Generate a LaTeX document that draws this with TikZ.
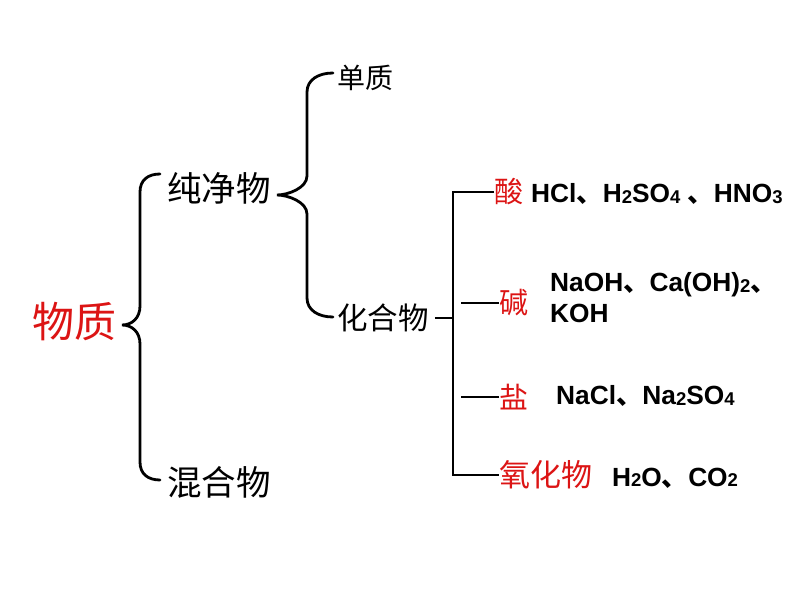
\documentclass[tikz,border=0pt]{standalone}
\usepackage{fontspec}
\newfontfamily\cjk{Noto Sans CJK SC}
\setmainfont{Liberation Sans}
\definecolor{myred}{RGB}{220,20,20}
\newcommand{\sbx}[1]{{\fontsize{18.5pt}{18.5pt}\selectfont\raisebox{-0.5pt}{#1}}}
\newcommand{\dun}{{\cjk 、}}
\tikzset{
  bracestroke/.style={draw=black, line width=2.8pt, line cap=round},
  treeline/.style={draw=black, line width=2.8pt},
  cn/.style={font=\cjk, inner sep=0pt, anchor=west},
  chem/.style={font=\fontsize{26.3pt}{31pt}\selectfont\bfseries, inner sep=0pt, anchor=west, align=left},
}
\begin{document}
\begin{tikzpicture}[x=1pt,y=-1pt]
\useasboundingbox (0,0) rectangle (794,596);
% nodes
\node[cn, text=myred, font=\cjk\fontsize{42pt}{42pt}\selectfont] (wz) at (32,322) {物质};
\node[cn, font=\cjk\fontsize{34.5pt}{34pt}\selectfont] (cjw) at (167,188) {纯净物};
\node[cn, font=\cjk\fontsize{34.5pt}{34pt}\selectfont] (hhw) at (167,482) {混合物};
\node[cn, font=\cjk\fontsize{28pt}{28pt}\selectfont] (dz) at (337,78) {单质};
\node[cn, font=\cjk\fontsize{30.5pt}{30pt}\selectfont] (hhw2) at (337,318) {化合物};
\node[cn, text=myred, font=\cjk\fontsize{29pt}{29pt}\selectfont] (suan) at (494,192) {酸};
\node[cn, text=myred, font=\cjk\fontsize{29pt}{29pt}\selectfont] (jian) at (499,303) {碱};
\node[cn, text=myred, font=\cjk\fontsize{29pt}{29pt}\selectfont] (yan) at (499,397) {盐};
\node[cn, text=myred, font=\cjk\fontsize{31pt}{31pt}\selectfont] (yhw) at (499,475) {氧化物};
\node[chem] (c1) at (531,194) {HCl\dun H\sbx{2}SO\sbx{4} \dun HNO\sbx{3}};
\node[chem] (c2) at (550,298) {NaOH\dun Ca(OH)\sbx{2}\dun\\KOH};
\node[chem] (c3) at (556,396) {NaCl\dun Na\sbx{2}SO\sbx{4}};
\node[chem] (c4) at (612,478) {H\sbx{2}O\dun CO\sbx{2}};
% brace 1
\coordinate (t1) at (122,325);
\draw[bracestroke] (160,174) .. controls (148,174) and (140,180) .. (140,192)
  -- (140,306) .. controls (140,318) and (132,325) .. (t1)
  .. controls (132,325) and (140,332) .. (140,344)
  -- (140,462) .. controls (140,474) and (148,480) .. (160,480);
% brace 2
\coordinate (t2) at (277,195);
\draw[bracestroke] (333,73) .. controls (318,73) and (307,80) .. (307,92)
  -- (307,176) .. controls (307,188) and (288,195) .. (t2)
  .. controls (288,195) and (307,202) .. (307,214)
  -- (307,298) .. controls (307,310) and (318,317) .. (333,317);
% tree
\coordinate (vx) at (453,318);
\draw[treeline] (hhw2.east) ++(6,0) -- (vx);
\draw[treeline] (suan.west) -- (suan.west -| vx) -- (yhw.west -| vx) -- (yhw.west);
\draw[treeline] (jian.west) -- ++(-38,0);
\draw[treeline] (yan.west) -- ++(-38,0);
\end{tikzpicture}
\end{document}
